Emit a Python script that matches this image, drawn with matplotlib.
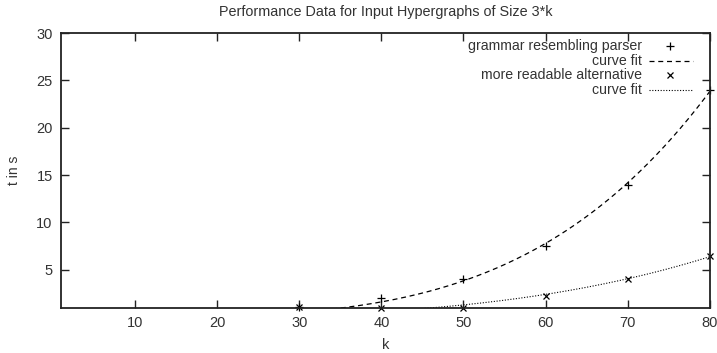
import numpy as np
import matplotlib
matplotlib.use("Agg")
import matplotlib.pyplot as plt
from matplotlib.lines import Line2D

plt.rcParams['font.family'] = ['Liberation Sans', 'DejaVu Sans']

# data
k_values = [30, 40, 50, 60, 70, 80]
t_parser = [1.1, 2.0, 4.0, 7.5, 14.0, 24.0]
t_alternative = [1.1, 1.0, 1.0, 2.2, 4.0, 6.5]

x_ticks = [10, 20, 30, 40, 50, 60, 70, 80]
y_ticks = [5, 10, 15, 20, 25, 30]


def fit_curve(xs, ys):
    ''' Least squares fit of a*x**b (b by grid search), evaluated over the x range. '''
    xs = np.asarray(xs, float)
    ys = np.asarray(ys, float)
    best = None
    for b in np.linspace(1.0, 8.0, 3000):
        basis = xs ** b
        a = basis @ ys / (basis @ basis)
        err = np.sum((a * basis - ys) ** 2)
        if best is None or err < best[0]:
            best = (err, a, b)
    _, a, b = best
    grid = np.linspace(1, 80, 400)
    return grid, a * grid ** b


fig = plt.figure(figsize=(7.17, 3.53), dpi=100)
ax = fig.add_axes([0.0851, 0.1283, 0.905, 0.778])

# curve fits
gx, gy = fit_curve(k_values, t_parser)
ax.plot(gx, gy, color='black', lw=0.9, linestyle=(0, (4, 3)))
gx, gy = fit_curve(k_values, t_alternative)
ax.plot(gx, gy, color='black', lw=0.8, linestyle=(0, (1, 1.5)))

# data points
ax.plot(k_values, t_parser, linestyle='none', marker='+', ms=6, mew=0.9,
        color='black', clip_on=False)
ax.plot(k_values, t_alternative, linestyle='none', marker='x', ms=5, mew=0.9,
        color='black', clip_on=False)

# axes formatting, gnuplot style
ax.set_xlim(1, 80)
ax.set_ylim(1, 30)
ax.set_xticks(x_ticks)
ax.set_yticks(y_ticks)
ax.tick_params(direction='in', length=6, width=1, top=True, right=True,
               labelsize=10.5, colors='#222222', labelcolor='#333333', pad=6)
for spine in ax.spines.values():
    spine.set_linewidth(1.3)
    spine.set_color('#222222')

ax.set_xlabel("k", fontsize=10.5, color='#333333', labelpad=6)
ax.set_ylabel("t in s", fontsize=10, color='#333333', labelpad=11)
ax.set_title("Performance Data for Input Hypergraphs of Size 3*k",
             fontsize=10.4, color='#333333', pad=12)

# key, right aligned text with sample on the right
key_rows = [
    ("grammar resembling parser", dict(linestyle='none', marker='+', ms=6, mew=0.9)),
    ("curve fit", dict(linestyle=(0, (4, 3)), lw=0.9)),
    ("more readable alternative", dict(linestyle='none', marker='x', ms=5, mew=0.9)),
    ("curve fit", dict(linestyle=(0, (1, 1.5)), lw=0.8)),
]
row_y = [0.953, 0.900, 0.847, 0.794]
for (label, style), y in zip(key_rows, row_y):
    ax.text(0.895, y, label, transform=ax.transAxes, ha='right', va='center',
            fontsize=10.2, color='#333333')
    if style.get('marker'):
        ax.add_line(Line2D([0.938], [y], transform=ax.transAxes, color='black', **style))
    else:
        ax.add_line(Line2D([0.906, 0.974], [y, y], transform=ax.transAxes,
                           color='black', **style))

fig.savefig("out.png", dpi=100)
